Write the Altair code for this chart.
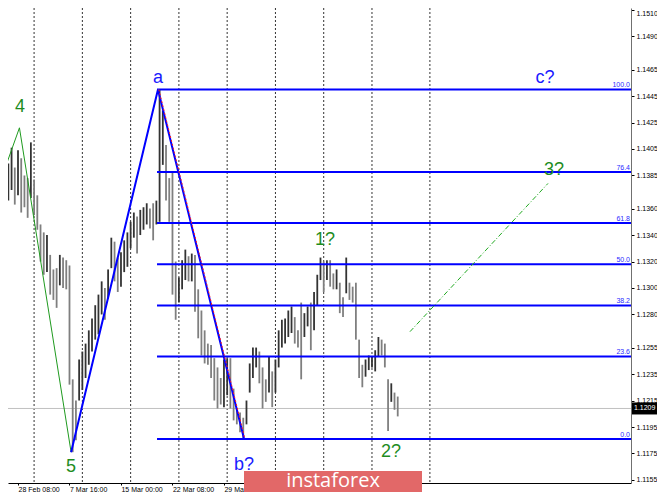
import altair as alt
import pandas as pd

# ---------------- data ----------------
bar_index = list(range(-6, 238, 2))  # H4 bar number, 0 = 28 Feb 08:00
bar_high = [1.1394, 1.1406, 1.1391, 1.1404, 1.1398, 1.1385, 1.1383, 1.1410, 1.1382, 1.1370,
            1.1348, 1.1342, 1.1340, 1.1325, 1.1314, 1.1315, 1.1325, 1.1323, 1.1321, 1.1317,
            1.1231, 1.1215, 1.1246, 1.1252, 1.1258, 1.1268, 1.1277, 1.1287, 1.1295, 1.1305,
            1.1300, 1.1314, 1.1338, 1.1335, 1.1323, 1.1327, 1.1336, 1.1342, 1.1350, 1.1357,
            1.1354, 1.1359, 1.1361, 1.1364, 1.1360, 1.1364, 1.1366, 1.1450, 1.1434, 1.1408,
            1.1383, 1.1388, 1.1320, 1.1308, 1.1321, 1.1329, 1.1324, 1.1326, 1.1325, 1.1299,
            1.1283, 1.1268, 1.1258, 1.1257, 1.1247, 1.1240, 1.1232, 1.1246, 1.1247, 1.1247,
            1.1224, 1.1209, 1.1206, 1.1202, 1.1215, 1.1243, 1.1255, 1.1255, 1.1252, 1.1240,
            1.1231, 1.1248, 1.1237, 1.1246, 1.1268, 1.1276, 1.1277, 1.1283, 1.1286, 1.1278,
            1.1268, 1.1289, 1.1281, 1.1286, 1.1289, 1.1297, 1.1310, 1.1323, 1.1320, 1.1321,
            1.1321, 1.1311, 1.1314, 1.1304, 1.1293, 1.1323, 1.1304, 1.1301, 1.1304, 1.1261,
            1.1242, 1.1246, 1.1249, 1.1248, 1.1253, 1.1263, 1.1261, 1.1258, 1.1231, 1.1228,
            1.1221, 1.1218]
bar_low = [1.1366, 1.1374, 1.1363, 1.1370, 1.1357, 1.1361, 1.1353, 1.1368, 1.1355, 1.1344,
           1.1320, 1.1310, 1.1312, 1.1295, 1.1291, 1.1285, 1.1302, 1.1300, 1.1299, 1.1227,
           1.1176, 1.1185, 1.1215, 1.1223, 1.1232, 1.1242, 1.1252, 1.1261, 1.1265, 1.1280,
           1.1276, 1.1292, 1.1315, 1.1305, 1.1297, 1.1301, 1.1312, 1.1316, 1.1330, 1.1338,
           1.1326, 1.1340, 1.1344, 1.1348, 1.1345, 1.1336, 1.1348, 1.1350, 1.1393, 1.1366,
           1.1350, 1.1295, 1.1276, 1.1289, 1.1299, 1.1306, 1.1305, 1.1305, 1.1282, 1.1262,
           1.1249, 1.1243, 1.1242, 1.1232, 1.1215, 1.1209, 1.1212, 1.1210, 1.1219, 1.1209,
           1.1200, 1.1197, 1.1191, 1.1186, 1.1197, 1.1221, 1.1232, 1.1240, 1.1228, 1.1209,
           1.1214, 1.1221, 1.1210, 1.1221, 1.1240, 1.1255, 1.1258, 1.1263, 1.1266, 1.1258,
           1.1255, 1.1231, 1.1263, 1.1271, 1.1253, 1.1268, 1.1287, 1.1306, 1.1297, 1.1306,
           1.1301, 1.1299, 1.1299, 1.1281, 1.1278, 1.1296, 1.1291, 1.1289, 1.1261, 1.1232,
           1.1225, 1.1233, 1.1238, 1.1240, 1.1237, 1.1248, 1.1249, 1.1240, 1.1192, 1.1214,
           1.1208, 1.1203]

separator_index = [10, 40, 70, 100, 130, 160, 190, 220, 256]
time_label_index = [0, 32, 64, 96, 128]
time_labels = ["28 Feb 08:00", "7 Mar 16:00", "15 Mar 00:00", "22 Mar 08:00", "29 Mar 16:00"]
price_ticks = [1.1510, 1.1490, 1.1465, 1.1445, 1.1425, 1.1405, 1.1385, 1.1360, 1.1340,
               1.1320, 1.1300, 1.1280, 1.1255, 1.1235, 1.1215, 1.1195, 1.1175, 1.1155]
last_price = 1.1209

fib_ratios = [100.0, 76.4, 61.8, 50.0, 38.2, 23.6, 0.0]
fib_high = 1.1450
fib_low = 1.1186
fib_start_index = 86.4

green_names = ["4", "5", "1?", "2?", "3?"]
green_label_index = [1.2, 33, 190.8, 231.8, 333.1]
green_label_price = [1.1437, 1.1165, 1.1336, 1.1176, 1.1389]
blue_names = ["a", "b?", "c?"]
blue_label_index = [87, 140.5, 327.5]
blue_label_price = [1.1459, 1.1166, 1.1459]

green_path_index = [-17, 0.9, 33]
green_path_price = [1.1360, 1.1421, 1.1176]
blue_path_index = [33, 87, 140.5]
blue_path_price = [1.1176, 1.1450, 1.1186]
red_path_index = [87.5, 141.0]
red_path_price = [1.1450, 1.1186]
projection_index = [243.6, 329.4]
projection_price = [1.1267, 1.1379]

X_DOMAIN = [-6.215, 380.98]
Y_DOMAIN = [1.11527, 1.15115]
PLOT_W, PLOT_H = 623, 475

# ---------------- tables ----------------
bars = pd.DataFrame({"i": bar_index, "high": bar_high, "low": bar_low})
mid = (bars["high"] + bars["low"]) / 2
bars["dir"] = (mid.diff().fillna(0) >= 0).map({True: "up", False: "down"})

seps = pd.DataFrame({"i": separator_index})
fib = pd.DataFrame({
    "ratio": fib_ratios,
    "price": [fib_low + r / 100.0 * (fib_high - fib_low) for r in fib_ratios],
})
fib["label"] = fib["ratio"].map(lambda r: f"{r:.1f}")
fib["i"] = fib_start_index
fib["i2"] = X_DOMAIN[1]

green_lab = pd.DataFrame({"name": green_names, "i": green_label_index, "price": green_label_price})
blue_lab = pd.DataFrame({"name": blue_names, "i": blue_label_index, "price": blue_label_price})
green_path = pd.DataFrame({"i": green_path_index, "price": green_path_price})
blue_path = pd.DataFrame({"i": blue_path_index, "price": blue_path_price})
red_path = pd.DataFrame({"i": red_path_index, "price": red_path_price})
proj = pd.DataFrame({"i": projection_index, "price": projection_price})
last = pd.DataFrame({"price": [last_price], "label": [f"{last_price:.4f}"]})
logo = pd.DataFrame({"t": ["instaforex"]})

xs = alt.Scale(domain=X_DOMAIN, nice=False, zero=False)
ys = alt.Scale(domain=Y_DOMAIN, nice=False, zero=False)

label_expr = "".join(f"datum.value == {v} ? '{t}' : " for v, t in zip(time_label_index, time_labels)) + "''"

x_axis = alt.Axis(values=time_label_index, labelExpr=label_expr, orient="bottom", grid=False,
                  domainColor="#000000", tickColor="#000000", tickSize=2, labelAlign="left",
                  labelBaseline="top", labelFont="Liberation Sans", labelFontSize=7, labelColor="#000000",
                  labelPadding=0, labelOverlap=False, labelFlush=False, title=None)
y_axis = alt.Axis(values=price_ticks, format=".4f", orient="right", grid=False,
                  domainColor="#707070", tickColor="#000000", tickSize=3,
                  labelFont="Liberation Sans", labelFontSize=7, labelColor="#000000",
                  labelPadding=2, labelOverlap=False, labelFlush=2.5, title=None)


def X(field):
    return alt.X(field, type="quantitative", scale=xs, axis=x_axis)


def Y(field):
    return alt.Y(field, type="quantitative", scale=ys, axis=y_axis)


sep_layer = alt.Chart(seps).mark_rule(color="#333333", strokeDash=[2, 2], strokeWidth=1).encode(x=X("i"))

price_line = alt.Chart(last).mark_rule(color="#c0c0c0", strokeWidth=1).encode(y=Y("price"))

bar_layer = alt.Chart(bars).mark_rule(strokeWidth=1.8, clip=True).encode(
    x=X("i"), y=Y("low"), y2="high:Q",
    color=alt.Color("dir:N", scale=alt.Scale(domain=["up", "down"], range=["#333333", "#7f7f7f"]), legend=None),
)

fib_lines = alt.Chart(fib).mark_rule(color="#0000ff", strokeWidth=2).encode(
    x=X("i"), x2="i2:Q", y=Y("price"))
fib_text = alt.Chart(fib).mark_text(color="#2b2bff", fontSize=7, font="Liberation Sans",
                                    align="right", baseline="bottom", dx=-1, dy=-1).encode(
    x=X("i2"), y=Y("price"), text="label:N")

green_line = alt.Chart(green_path).mark_line(color="#1f9a1f", strokeWidth=1, clip=True).encode(
    x=X("i"), y=Y("price"))
blue_line = alt.Chart(blue_path).mark_line(color="#0000ff", strokeWidth=2, clip=True).encode(
    x=X("i"), y=Y("price"))
red_line = alt.Chart(red_path).mark_line(color="#ff2020", strokeWidth=1, strokeDash=[2, 2], clip=True).encode(
    x=X("i"), y=Y("price"))
proj_line = alt.Chart(proj).mark_line(color="#22aa22", strokeWidth=1, strokeDash=[5, 2, 1, 2], clip=True).encode(
    x=X("i"), y=Y("price"))

green_text = alt.Chart(green_lab).mark_text(fontSize=18, font="Liberation Sans", align="center",
                                             baseline="middle", color="#1e8c1e").encode(
    x=X("i"), y=Y("price"), text="name:N")
blue_text = alt.Chart(blue_lab).mark_text(fontSize=18, font="Liberation Sans", align="center",
                                           baseline="middle", color="#1a1aff").encode(
    x=X("i"), y=Y("price"), text="name:N")

logo_box = alt.Chart(logo).mark_rect(color="#e26868").encode(
    x=alt.value(236), x2=alt.value(414), y=alt.value(463), y2=alt.value(484))
logo_text = alt.Chart(logo).mark_text(color="#ffffff", fontSize=20, font="Open Sans",
                                      align="center", baseline="middle").encode(
    x=alt.value(325), y=alt.value(473), text="t:N")

tag_box = alt.Chart(last).mark_rule(color="#000000", strokeWidth=12).encode(
    x=alt.value(PLOT_W + 1), x2=alt.value(PLOT_W + 26), y=Y("price"))
tag_text = alt.Chart(last).mark_text(color="#ffffff", fontSize=7, font="Liberation Sans",
                                     align="left", baseline="middle").encode(
    x=alt.value(PLOT_W + 3), y=Y("price"), text="label:N")

chart = alt.layer(
    sep_layer, price_line, bar_layer, fib_lines, fib_text, green_line, blue_line, red_line,
    proj_line, green_text, blue_text, logo_box, logo_text, tag_box, tag_text,
).properties(
    width=PLOT_W, height=PLOT_H,
    autosize=alt.AutoSizeParams(type="none"),
    padding={"left": 0, "top": 0, "right": 26, "bottom": 9},
    background="#ffffff",
).configure_view(stroke=None)

chart.save("out.html", embed_options={"renderer": "svg", "actions": False})
